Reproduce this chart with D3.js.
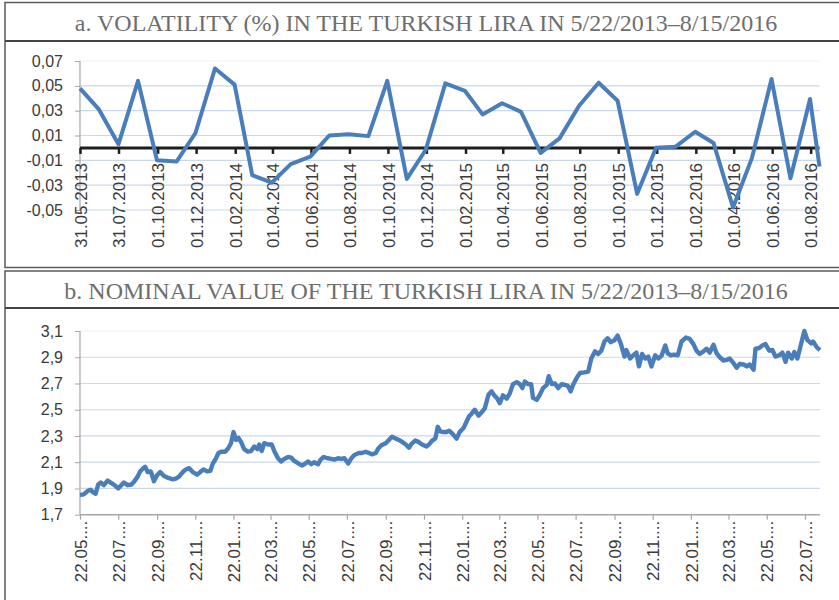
<!DOCTYPE html>
<html>
<head>
<meta charset="utf-8">
<script src="https://cdn.jsdelivr.net/npm/d3@7"></script>
<style>
  body { margin: 0; background: #fff; }
  svg { display: block; }
</style>
</head>
<body>
<svg id="chart" width="839" height="600"></svg>
<script>
// panel a: monthly volatility
const titleA = "a. VOLATILITY (%) IN THE TURKISH LIRA IN 5/22/2013\u20138/15/2016";
const volDates = [
  "2013-05-31","2013-06-30","2013-07-31","2013-08-31","2013-09-30","2013-10-31","2013-11-30","2013-12-31",
  "2014-01-31","2014-02-28","2014-03-31","2014-04-30","2014-05-31","2014-06-30","2014-07-31","2014-08-31",
  "2014-09-30","2014-10-31","2014-11-30","2014-12-31","2015-01-31","2015-02-28","2015-03-31","2015-04-30",
  "2015-05-31","2015-06-30","2015-07-31","2015-08-31","2015-09-30","2015-10-31","2015-11-30","2015-12-31",
  "2016-01-31","2016-02-29","2016-03-31","2016-04-30","2016-05-31","2016-06-30","2016-07-31","2016-08-15"
];
const volValues = [
  0.048, 0.031, 0.003, 0.054, -0.010, -0.011, 0.012, 0.064,
  0.051, -0.022, -0.028, -0.013, -0.007, 0.010, 0.011, 0.0095,
  0.054, -0.025, -0.0015, 0.052, 0.046, 0.027, 0.036, 0.029,
  -0.004, 0.0077, 0.034, 0.0525, 0.038, -0.037, 0.0002, 0.001,
  0.013, 0.004, -0.048, -0.008, 0.0555, -0.0245, 0.0394, -0.015
];
const volTicks = [
  "2013-05-31","2013-07-31","2013-10-01","2013-12-01","2014-02-01","2014-04-01","2014-06-01",
  "2014-08-01","2014-10-01","2014-12-01","2015-02-01","2015-04-01","2015-06-01","2015-08-01",
  "2015-10-01","2015-12-01","2016-02-01","2016-04-01","2016-06-01","2016-08-01"
];
const volYTicks = [0.07, 0.05, 0.03, 0.01, -0.01, -0.03, -0.05];

// panel b: nominal value, days counted from 22.05.2013
const titleB = "b. NOMINAL VALUE OF THE TURKISH LIRA IN 5/22/2013\u20138/15/2016";
const rateStart = "2013-05-22";
const rateDays = [
  0,6,12,17,21,25,29,33,38,44,49,54,61,65,70,76,82,86,92,96,
  100,104,108,113,118,123,128,134,141,148,153,158,164,169,174,180,187,192,197,203,
  208,212,217,221,225,232,237,241,245,249,253,257,262,268,273,278,283,286,290,294,
  300,306,310,316,321,326,332,337,342,349,354,358,364,369,374,380,384,389,395,401,
  406,412,417,422,428,433,438,445,450,456,461,466,472,476,481,488,493,498,504,509,
  514,520,525,529,535,540,546,553,557,562,567,571,575,580,585,
  589,594,601,606,612,617,621,625,630,636,641,646,652,657,661,666,670,675,681,686,
  691,697,702,706,710,715,720,723,729,734,739,745,748,753,758,763,769,774,779,783,
  787,793,798,805,811,816,822,827,832,837,842,847,853,858,863,869,872,878,883,888,
  892,897,902,907,912,918,923,928,934,938,943,948,954,960,967,973,979,984,989,995,
  1000,1005,1011,1016,1021,1027,1032,1037,1043,1048,1053,1059,1064,1069,1075,1078,1084,1089,1094,1100,
  1105,1110,1116,1121,1126,1130,1136,1140,1145,1151,1156,1161,1167,1170,1176,1181
];
const rateValues = [
  1.85,1.855,1.88,1.89,1.87,1.86,1.93,1.945,1.925,1.96,1.945,1.93,1.90,1.92,1.945,1.925,1.93,1.95,1.99,2.03,
  2.05,2.065,2.025,2.03,1.955,2.00,2.025,1.995,1.98,1.97,1.975,1.99,2.025,2.045,2.055,2.025,2.005,2.025,2.045,2.03,
  2.035,2.09,2.13,2.17,2.18,2.18,2.21,2.245,2.33,2.27,2.285,2.255,2.20,2.18,2.185,2.22,2.20,2.235,2.185,2.245,
  2.235,2.235,2.185,2.13,2.105,2.125,2.14,2.135,2.11,2.09,2.075,2.085,2.105,2.085,2.10,2.085,2.12,2.14,2.13,2.125,
  2.12,2.13,2.125,2.13,2.09,2.13,2.155,2.17,2.17,2.18,2.17,2.16,2.17,2.205,2.23,2.245,2.27,2.295,2.28,2.27,
  2.255,2.235,2.21,2.24,2.265,2.255,2.235,2.22,2.235,2.265,2.28,2.37,2.335,2.33,2.33,
  2.34,2.32,2.28,2.33,2.36,2.41,2.45,2.47,2.50,2.455,2.48,2.51,2.615,2.64,2.61,2.585,2.55,2.61,2.585,2.625,
  2.695,2.71,2.695,2.665,2.715,2.695,2.695,2.59,2.575,2.615,2.665,2.69,2.755,2.695,2.70,2.665,2.695,2.69,2.68,2.64,
  2.69,2.745,2.78,2.785,2.79,2.89,2.945,2.925,2.95,3.02,3.045,3.015,3.03,3.065,3.005,2.905,2.955,2.89,2.915,2.935,
  2.83,2.925,2.89,2.905,2.83,2.915,2.89,2.91,2.99,2.93,2.915,2.92,2.915,3.02,3.05,3.04,3.00,2.95,2.925,2.945,
  2.965,2.935,2.995,2.93,2.90,2.875,2.88,2.89,2.855,2.82,2.85,2.845,2.83,2.845,2.805,2.965,2.97,2.99,3.00,2.95,
  2.955,2.905,2.915,2.935,2.865,2.935,2.89,2.94,2.89,3.005,3.10,3.03,3.005,3.02,2.975,2.955
];
const rateTicks = [
  "2013-05-22","2013-07-22","2013-09-22","2013-11-22","2014-01-22","2014-03-22","2014-05-22",
  "2014-07-22","2014-09-22","2014-11-22","2015-01-22","2015-03-22","2015-05-22","2015-07-22",
  "2015-09-22","2015-11-22","2016-01-22","2016-03-22","2016-05-22","2016-07-22"
];
const rateYTicks = [3.1, 2.9, 2.7, 2.5, 2.3, 2.1, 1.9, 1.7];

const parse = d3.timeParse("%Y-%m-%d");
const locale = d3.formatLocale({decimal: ",", thousands: ".", grouping: [3], currency: ["", ""], minus: "-"});
const lineColor = "#4a7ebb";
const gridColor = "#c9d8ee";
const axisGray = "#a6a6a6";
const textColor = "#3a3a3a";

const svg = d3.select("#chart");

// panel frames and titles
function panelFrame(top, height, sepY, baseY, title) {
    svg.append("rect")
        .attr("x", 5).attr("y", top)
        .attr("width", 850).attr("height", height)
        .attr("fill", "none")
        .attr("stroke", "#5a5a5a")
        .attr("stroke-width", 1.5);
    svg.append("line")
        .attr("x1", 5).attr("x2", 839)
        .attr("y1", sepY).attr("y2", sepY)
        .attr("stroke", "#444")
        .attr("stroke-width", 2);
    svg.append("text")
        .attr("x", 426).attr("y", baseY)
        .attr("text-anchor", "middle")
        .attr("font-family", "'Liberation Serif', 'DejaVu Serif', serif")
        .attr("font-size", 24)
        .attr("fill", "#6e6e6e")
        .text(title);
}
panelFrame(2.5, 265, 41, 31, titleA);
panelFrame(271, 400, 308, 299, titleB);

function styleAxis(g, color, width) {
    g.select(".domain").remove();
    g.selectAll(".tick line").attr("stroke", color).attr("stroke-width", width);
    g.selectAll(".tick text")
        .attr("fill", textColor)
        .attr("font-family", "'Liberation Sans', Arial, sans-serif");
}

function gridAndYAxis(y, ticks, left, right, fmt) {
    svg.append("g")
        .selectAll("line")
        .data(ticks)
        .join("line")
        .attr("x1", left).attr("x2", right)
        .attr("y1", d => y(d)).attr("y2", d => y(d))
        .attr("stroke", (d, i) => i === 0 ? "#edf2f9" : gridColor)
        .attr("stroke-width", 1.2);

    const ga = svg.append("g")
        .attr("transform", `translate(${left},0)`)
        .call(d3.axisLeft(y).tickValues(ticks).tickSize(5).tickPadding(12).tickFormat(fmt));
    styleAxis(ga, axisGray, 1);
    ga.selectAll(".tick text").attr("font-size", 16);
    svg.append("line")
        .attr("x1", left).attr("x2", left)
        .attr("y1", y(d3.max(ticks))).attr("y2", y(d3.min(ticks)))
        .attr("stroke", axisGray)
        .attr("stroke-width", 1.2);
}

// ---- panel a ----
const xA = d3.scaleTime()
    .domain([parse(volDates[0]), parse(volDates[volDates.length - 1])])
    .range([80, 819.5]);
const yA = d3.scaleLinear().domain([-0.05, 0.07]).range([210, 61]);

gridAndYAxis(yA, volYTicks, 80, 819.5, locale.format(".2f"));

svg.append("line")
    .attr("x1", 80).attr("x2", 819.5)
    .attr("y1", yA(0)).attr("y2", yA(0))
    .attr("stroke", "#1e1e1e")
    .attr("stroke-width", 3);

const xAxisA = svg.append("g")
    .attr("transform", `translate(0,${yA(0)})`)
    .call(d3.axisBottom(xA)
        .tickValues(volTicks.map(parse))
        .tickSize(6)
        .tickFormat(d3.timeFormat("%d.%m.%Y")));
styleAxis(xAxisA, "#1e1e1e", 2.5);
xAxisA.selectAll(".tick text")
    .attr("font-size", 17)
    .attr("transform", "rotate(-90)")
    .attr("text-anchor", "end")
    .attr("x", -15)
    .attr("y", 0)
    .attr("dy", "0.36em");

svg.append("path")
    .datum(volDates.map((d, i) => ({date: parse(d), value: volValues[i]})))
    .attr("fill", "none")
    .attr("stroke", lineColor)
    .attr("stroke-width", 4)
    .attr("stroke-linejoin", "round")
    .attr("d", d3.line()
        .x(d => xA(d.date))
        .y(d => yA(d.value)));

// ---- panel b ----
const start = parse(rateStart);
const rateData = rateDays.map((n, i) => ({date: d3.timeDay.offset(start, n), value: rateValues[i]}));

const xB = d3.scaleTime()
    .domain(d3.extent(rateData, d => d.date))
    .range([80, 820]);
const yB = d3.scaleLinear().domain([1.7, 3.1]).range([514.7, 331]);

gridAndYAxis(yB, rateYTicks.filter(v => v > 1.75), 80, 820, locale.format(".1f"));
const yAxisLow = svg.append("g")
    .attr("transform", "translate(80,0)")
    .call(d3.axisLeft(yB).tickValues([1.7]).tickSize(5).tickPadding(12).tickFormat(locale.format(".1f")));
styleAxis(yAxisLow, axisGray, 1);
yAxisLow.selectAll(".tick text").attr("font-size", 16);
svg.append("line")
    .attr("x1", 80).attr("x2", 80)
    .attr("y1", yB(1.9)).attr("y2", yB(1.7))
    .attr("stroke", axisGray)
    .attr("stroke-width", 1.2);

svg.append("line")
    .attr("x1", 80).attr("x2", 820)
    .attr("y1", yB(1.7)).attr("y2", yB(1.7))
    .attr("stroke", axisGray)
    .attr("stroke-width", 1.5);

const xAxisB = svg.append("g")
    .attr("transform", `translate(0,${yB(1.7)})`)
    .call(d3.axisBottom(xB)
        .tickValues(rateTicks.map(parse))
        .tickSize(5)
        .tickFormat(d => d3.timeFormat("%d.%m")(d) + "...."));
styleAxis(xAxisB, axisGray, 1.2);
xAxisB.selectAll(".tick text")
    .attr("font-size", 17)
    .attr("transform", "rotate(-90)")
    .attr("text-anchor", "end")
    .attr("x", -6)
    .attr("y", 0)
    .attr("dy", "0.36em");

svg.append("path")
    .datum(rateData)
    .attr("fill", "none")
    .attr("stroke", lineColor)
    .attr("stroke-width", 4.4)
    .attr("stroke-linejoin", "round")
    .attr("d", d3.line()
        .x(d => xB(d.date))
        .y(d => yB(d.value)));
</script>
</body>
</html>
